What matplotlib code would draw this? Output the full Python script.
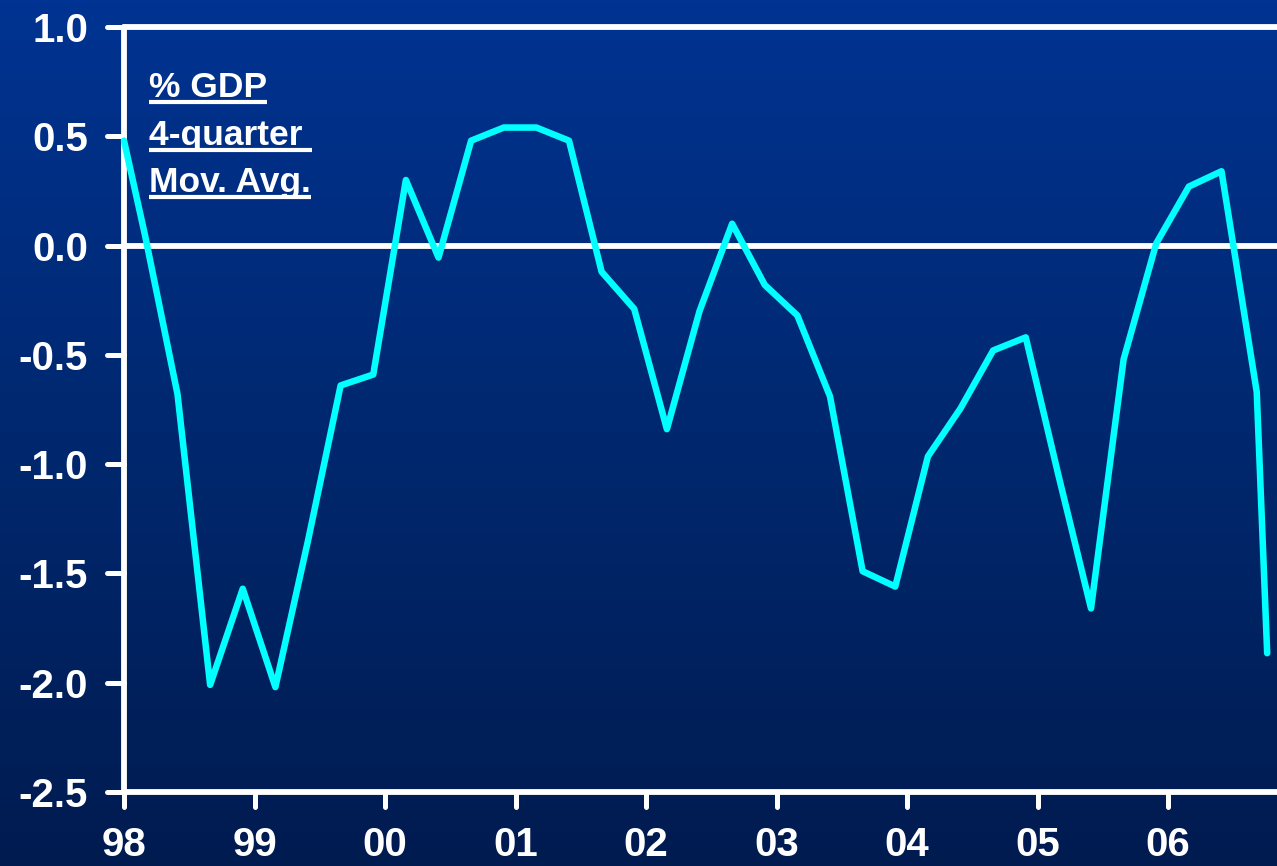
import numpy as np
import matplotlib
matplotlib.use("Agg")
import matplotlib.pyplot as plt
from matplotlib.lines import Line2D
from matplotlib.markers import MarkerStyle, TICKLEFT, TICKDOWN
from matplotlib.colors import LinearSegmentedColormap

# ---- data (years as decimals, % GDP, 4-quarter moving average) ----
dates = [1998.00, 1998.16, 1998.41, 1998.66, 1998.91,
         1999.16, 1999.41, 1999.66, 1999.91,
         2000.16, 2000.41, 2000.66, 2000.91,
         2001.16, 2001.41, 2001.66, 2001.91,
         2002.16, 2002.41, 2002.66, 2002.91,
         2003.16, 2003.41, 2003.66, 2003.91,
         2004.16, 2004.41, 2004.66, 2004.91,
         2005.16, 2005.41, 2005.66, 2005.91,
         2006.16, 2006.41, 2006.68, 2006.76]
values = [0.48, 0.05, -0.68, -2.01, -1.57,
          -2.02, -1.35, -0.64, -0.59,
          0.30, -0.055, 0.48, 0.54,
          0.54, 0.48, -0.12, -0.29,
          -0.84, -0.30, 0.10, -0.18,
          -0.32, -0.69, -1.49, -1.56,
          -0.965, -0.745, -0.48, -0.42,
          -1.05, -1.66, -0.52, 0.01,
          0.27, 0.34, -0.67, -1.865]
x_ticks = [1998, 1999, 2000, 2001, 2002, 2003, 2004, 2005, 2006]
x_labels = ['98', '99', '00', '01', '02', '03', '04', '05', '06']
y_ticks = [1.0, 0.5, 0.0, -0.5, -1.0, -1.5, -2.0, -2.5]
y_labels = ['1.0', '0.5', '0.0', '-0.5', '-1.0', '-1.5', '-2.0', '-2.5']
note_lines = ['% GDP', '4-quarter ', 'Mov. Avg.']

W, H = 1277, 866
plt.rcParams['font.family'] = ['Liberation Sans', 'DejaVu Sans']
fig = plt.figure(figsize=(W / 100, H / 100), dpi=100)

# background gradient
bg = fig.add_axes([0, 0, 1, 1], zorder=0)
cmap = LinearSegmentedColormap.from_list('bg', ['#003392', '#00286F', '#001B50'])
grad = np.linspace(0, 1, 256).reshape(-1, 1)
bg.imshow(grad, aspect='auto', cmap=cmap, extent=[0, 1, 0, 1], origin='upper')
bg.set_axis_off()

left_px, top_px, bottom_px = 124, 27, 792
ax = fig.add_axes([left_px / W, (H - bottom_px) / H,
                   (W - left_px) / W, (bottom_px - top_px) / H], zorder=1)
ax.patch.set_alpha(0)
ax.set_xlim(1998, 1998 + (W - left_px) / 130.5)
ax.set_ylim(-2.5, 1.0)

ax.axhline(0, color='white', lw=4.2, zorder=2)
ax.plot(dates, values, color='#00FFFF', lw=4.7, solid_joinstyle='round',
        solid_capstyle='round', zorder=3, clip_on=False)

for s in ['left', 'top', 'bottom']:
    ax.spines[s].set_color('white')
    ax.spines[s].set_linewidth(4.2)
    ax.spines[s].set_capstyle('round')
ax.spines['right'].set_visible(False)

ax.set_xticks(x_ticks)
ax.set_xticklabels(x_labels)
ax.set_yticks(y_ticks)
ax.set_yticklabels(y_labels)
ax.tick_params(axis='x', colors='white', length=10.5, width=3.6, pad=14,
               labelsize=29, direction='out')
ax.tick_params(axis='y', colors='white', length=12, width=3.6, pad=14,
               labelsize=29, direction='out')
for lbl in ax.get_xticklabels() + ax.get_yticklabels():
    lbl.set_fontweight('bold')
    lbl.set_color('white')
for tk in ax.xaxis.get_major_ticks():
    tk.tick1line.set_marker(MarkerStyle(TICKDOWN, capstyle='round'))
for tk in ax.yaxis.get_major_ticks():
    tk.tick1line.set_marker(MarkerStyle(TICKLEFT, capstyle='round'))

# annotation with underlines
baselines = [97, 145, 192]
texts = []
for line, b in zip(note_lines, baselines):
    t = fig.text(149 / W, (H - b) / H, line, color='white', fontsize=25.5,
                 fontweight='bold', ha='left', va='baseline', zorder=5)
    texts.append((t, b))

fig.canvas.draw()
renderer = fig.canvas.get_renderer()
for t, b in texts:
    bb = t.get_window_extent(renderer=renderer)
    yu = (H - (b + 5)) / H
    fig.add_artist(Line2D([bb.x0 / W, bb.x1 / W], [yu, yu],
                          transform=fig.transFigure, color='white', lw=3.0,
                          solid_capstyle='butt', zorder=5))

fig.savefig('out.png', dpi=100)
